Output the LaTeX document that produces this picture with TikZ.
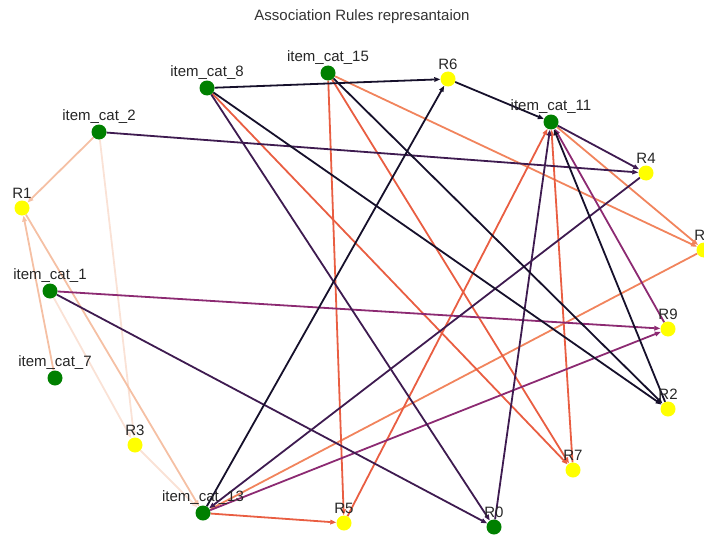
\documentclass[tikz,border=0pt]{standalone}
\usepackage{fontspec}
\setmainfont{Liberation Sans}
\usetikzlibrary{arrows.meta}
\pgfdeclarelayer{background}
\pgfsetlayers{background,main}
\definecolor{nodegreen}{HTML}{008000}
\definecolor{nodeyellow}{HTML}{FFFF00}
\definecolor{txtgray}{HTML}{262626}
\definecolor{ttlgray}{HTML}{333333}
\definecolor{cBlack}{HTML}{16102B}
\definecolor{cDark}{HTML}{3E1B50}
\definecolor{cMag}{HTML}{8C2A72}
\definecolor{cRed}{HTML}{E95E42}
\definecolor{cOrange}{HTML}{F1845D}
\definecolor{cPeach}{HTML}{F5C0A4}
\definecolor{cLight}{HTML}{FAE2D6}
\begin{document}
\begin{tikzpicture}[x=1pt,y=-1pt,
  inode/.style={circle,fill=nodegreen,minimum size=15pt,inner sep=0pt},
  rnode/.style={circle,fill=nodeyellow,minimum size=15pt,inner sep=0pt},
  lbl/.style={font=\fontsize{15}{18}\selectfont,text=txtgray,inner sep=0pt},
  ttl/.style={font=\fontsize{15}{18}\selectfont,text=ttlgray,inner sep=0pt},
  edge/.style={line width=1.8pt,-{Triangle[length=6pt,width=4.5pt]}}
]
\useasboundingbox (0,0) rectangle (704,535);

\node[ttl] (title) at (362,17) {Association Rules represantaion};

% nodes
\node[inode] (i8) at (207,88) {};
\node[inode] (i15) at (328,73) {};
\node[rnode] (r6) at (448,79) {};
\node[inode] (i11) at (551,122) {};
\node[inode] (i2) at (99,132) {};
\node[rnode] (r4) at (646,173) {};
\node[rnode] (r1) at (22,208) {};
\node[rnode] (r8) at (704,250) {};
\node[inode] (i1) at (50,291) {};
\node[rnode] (r9) at (668,329) {};
\node[inode] (i7) at (55,378) {};
\node[rnode] (r2) at (668,409) {};
\node[rnode] (r3) at (135,445) {};
\node[rnode] (r7) at (573,470) {};
\node[inode] (i13) at (203,513) {};
\node[rnode] (r5) at (344,523) {};
\node[inode] (r0) at (494,527) {};

% labels
\node[lbl] (l8) at (207,73) {item\_cat\_8};
\node[lbl] (l15) at (328,58) {item\_cat\_15};
\node[lbl] (lr6) at (448,64) {R6};
\node[lbl] (l11) at (551,107) {item\_cat\_11};
\node[lbl] (l2) at (99,117) {item\_cat\_2};
\node[lbl] (lr4) at (646,158) {R4};
\node[lbl] (lr1) at (22,193) {R1};
\node[lbl] (lr8) at (704,235) {R8};
\node[lbl] (l1) at (50,276) {item\_cat\_1};
\node[lbl] (lr9) at (668,314) {R9};
\node[lbl] (l7) at (55,363) {item\_cat\_7};
\node[lbl] (lr2) at (668,394) {R2};
\node[lbl] (lr3) at (135,430) {R3};
\node[lbl] (lr7) at (573,455) {R7};
\node[lbl] (l13) at (203,498) {item\_cat\_13};
\node[lbl] (lr5) at (344,508) {R5};
\node[lbl] (lr0) at (494,512) {R0};

\begin{pgfonlayer}{background}
% R3
\draw[edge,cLight] (i2) -- (r3);
\draw[edge,cLight] (i1) -- (r3);
\draw[edge,cLight] (r3) -- (i13);
% R1
\draw[edge,cPeach] (i2) -- (r1);
\draw[edge,cPeach] (i7) -- (r1);
\draw[edge,cPeach] (r1) -- (i13);
% R8
\draw[edge,cOrange] (i15) -- (r8);
\draw[edge,cOrange] (i11) -- (r8);
\draw[edge,cOrange] (r8) -- (i13);
% R5
\draw[edge,cRed] (i13) -- (r5);
\draw[edge,cRed] (i15) -- (r5);
\draw[edge,cRed] (r5) -- (i11);
% R7
\draw[edge,cRed] (i8) -- (r7);
\draw[edge,cRed] (i15) -- (r7);
\draw[edge,cRed] (r7) -- (i11);
% R9
\draw[edge,cMag] (i1) -- (r9);
\draw[edge,cMag] (i13) -- (r9);
\draw[edge,cMag] (r9) -- (i11);
% R4
\draw[edge,cDark] (i2) -- (r4);
\draw[edge,cDark] (i11) -- (r4);
\draw[edge,cDark] (r4) -- (i13);
% R0
\draw[edge,cDark] (i1) -- (r0);
\draw[edge,cDark] (i8) -- (r0);
\draw[edge,cDark] (r0) -- (i11);
% R2
\draw[edge,cBlack] (i15) -- (r2);
\draw[edge,cBlack] (i8) -- (r2);
\draw[edge,cBlack] (r2) -- (i11);
% R6
\draw[edge,cBlack] (i8) -- (r6);
\draw[edge,cBlack] (i13) -- (r6);
\draw[edge,cBlack] (r6) -- (i11);
\end{pgfonlayer}
\end{tikzpicture}
\end{document}
